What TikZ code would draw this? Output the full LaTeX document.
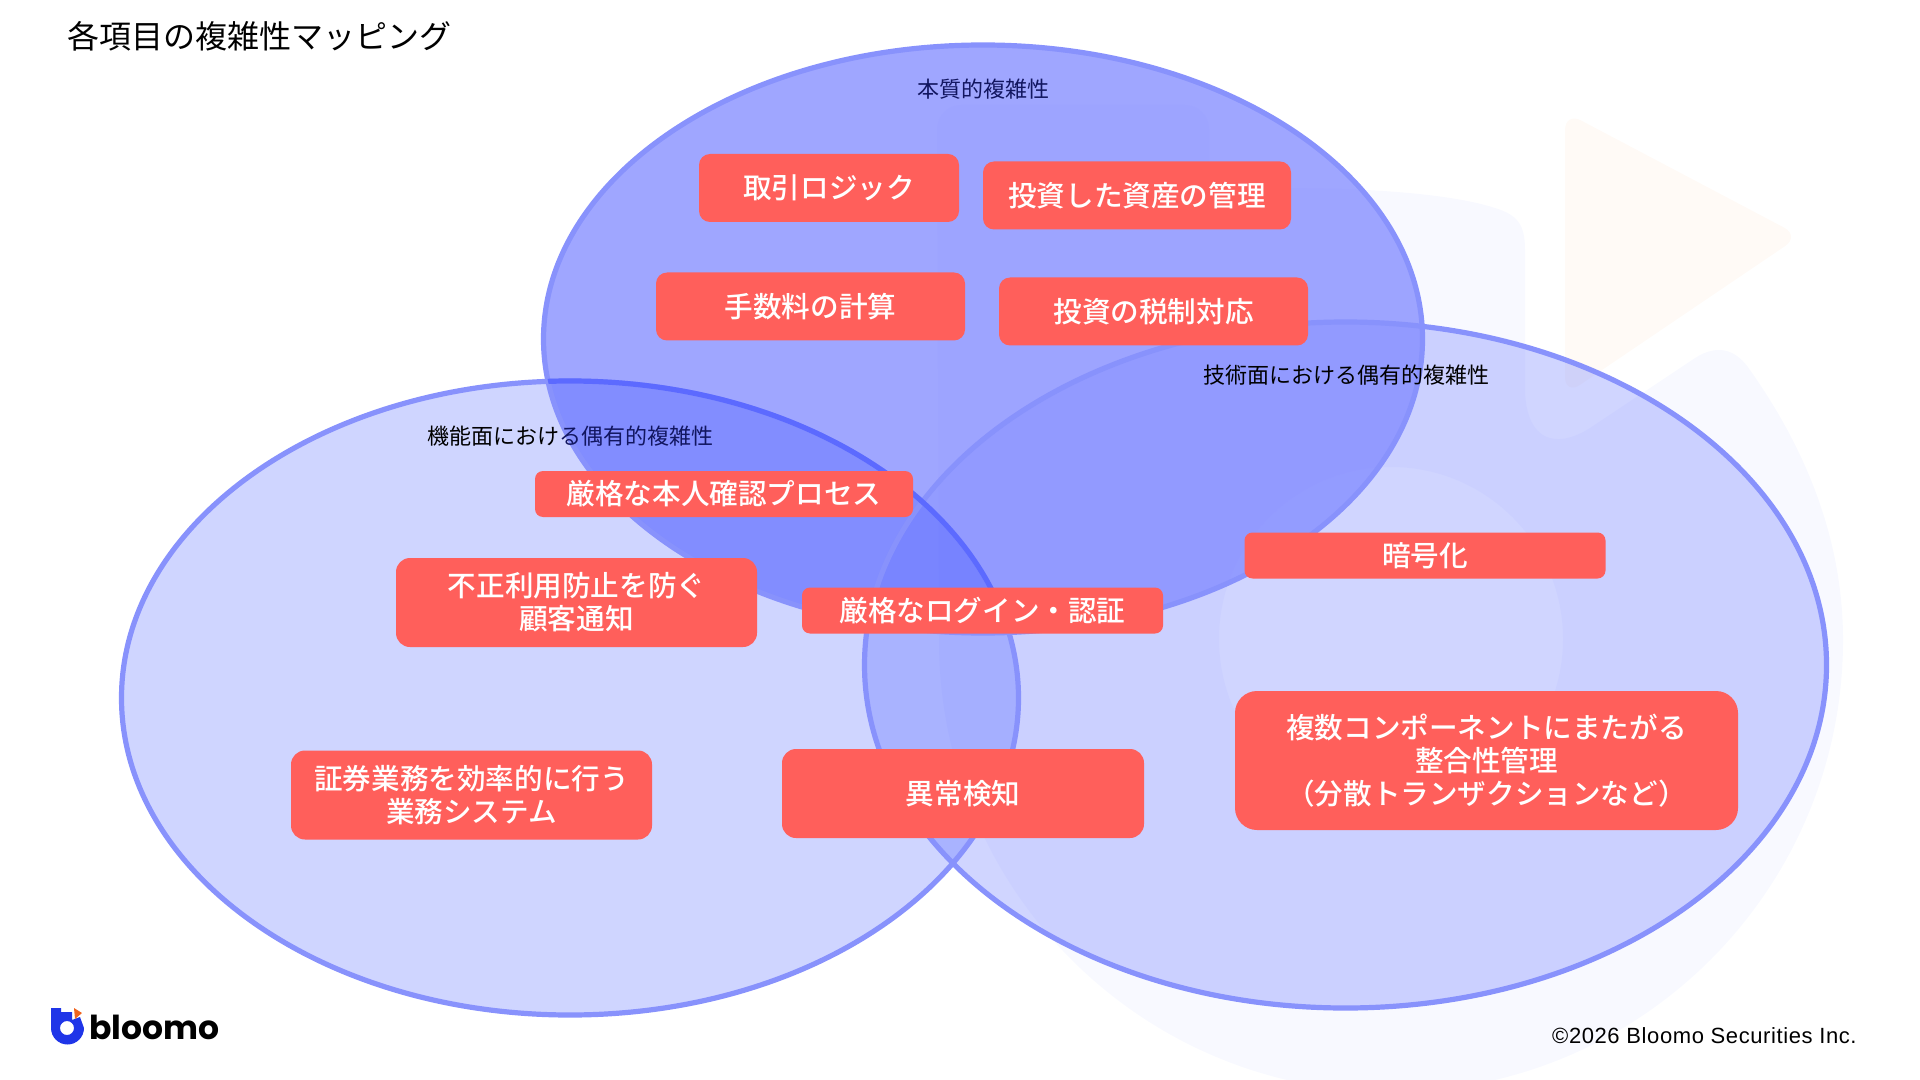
\documentclass[tikz,border=0pt]{standalone}
\usepackage{fontspec}
\usepackage{xcolor}
\usepackage{tikz}
\usetikzlibrary{
positioning,
shapes.geometric
}
\setmainfont{Noto Sans CJK JP}
\newfontfamily\boxfont{Noto Sans CJK JP Medium}
\newfontfamily\footfont[LetterSpace=2.7]{Liberation Sans}
\newfontfamily\brandfont{Poppins}
\definecolor{VennRightFill}{RGB}{124,138,255}
\definecolor{VennTopFill}{RGB}{129,138,255}
\definecolor{VennLeftFill}{RGB}{14,43,255}
\definecolor{VennLine}{RGB}{136,146,252}
\definecolor{VennLineDark}{RGB}{92,106,255}
\definecolor{VennInk}{RGB}{18,22,96}
\definecolor{RiskRed}{HTML}{FF5F5B}
\definecolor{MarkBlue}{HTML}{F8F9FF}
\definecolor{MarkOrange}{HTML}{FFFAF6}
\definecolor{BrandBlue}{HTML}{1F35E8}
\definecolor{BrandOrange}{HTML}{F0641E}
\tikzset{
vennset/.style={ellipse, inner sep=0pt, outer sep=0pt},
vennright/.style={vennset, fill=VennRightFill, fill opacity=0.36},
venntop/.style={vennset, fill=VennTopFill, fill opacity=0.76},
vennleft/.style={vennset, fill=VennLeftFill, fill opacity=0.2},
vennline/.style={draw=VennLine, line width=2.6pt},
vennlabel/.style={font=\fontsize{11}{13}\selectfont, text=black, inner sep=0pt},
riskbox/.style={fill=RiskRed, text=white, align=center, inner sep=0pt,
  font=\boxfont\fontsize{14.3}{16.5}\selectfont},
riskslim/.style={riskbox, minimum height=23pt, rounded corners=4pt},
riskmid/.style={riskbox, minimum height=34pt, rounded corners=5.5pt},
risktall/.style={riskbox, minimum height=44.5pt, rounded corners=7pt}
}
\begin{document}
\begin{tikzpicture}[x=0.5pt, y=-0.5pt]
\useasboundingbox (0,0) rectangle (1920,1080);
\fill[MarkOrange, rounded corners=9pt] (1565,112) -- (1800,236) -- (1565,395) -- cycle;
\fill[MarkBlue, even odd rule] (1843,640) arc[start angle=0, end angle=180, radius=452]
  [rounded corners=12pt] -- (937,105) -- (1209,105) [sharp corners] -- (1209,190)
  .. controls (1320,185) and (1440,190) .. (1495,208)
  .. controls (1518,215) and (1525,225) .. (1525,250) -- (1525,392)
  .. controls (1527,440) and (1555,450) .. (1590,428) -- (1695,358)
  .. controls (1720,342) and (1738,352) .. (1750,370)
  .. controls (1810,455) and (1843,545) .. (1843,640) -- cycle
  (1391,639) circle[radius=172];
\node[vennright, minimum width=481pt, minimum height=343pt] (technical) at (1345.5,665) {};
\node[venntop, minimum width=439.5pt, minimum height=294pt] (essential) at (983,339) {};
\node[vennleft, minimum width=448.5pt, minimum height=317pt] (functional) at (570,698) {};
\draw[vennline] (technical.center) ellipse[x radius=481, y radius=343];
\draw[vennline] (essential.center) ellipse[x radius=439.5, y radius=294];
\draw[vennline] (functional.center) ellipse[x radius=448.5, y radius=317];
\begin{scope}
\clip (essential.center) ellipse[x radius=439.5, y radius=294];
\draw[vennline, draw=VennLineDark] (functional.center) ellipse[x radius=448.5, y radius=317];
\end{scope}
\node[vennlabel, text=VennInk] (essentiallabel) at (983,89) {本質的複雑性};
\node[vennlabel] (technicallabel) at (1346,375) {技術面における偶有的複雑性};
\node[vennlabel] (functionallabel) at (570,436) {機能面におけ{\color{VennInk}る偶有的複雑性}};
\node[anchor=west, inner sep=0pt, font=\fontsize{16}{19}\selectfont] (title) at (67,36) {各項目の複雑性マッピング};
\node[riskmid, minimum width=130pt] (trade) at (829,188) {取引ロジック};
\node[riskmid, minimum width=154pt] (assets) at (1137,195.5) {投資した資産の管理};
\node[riskmid, minimum width=154.5pt] (fees) at (810.5,306.5) {手数料の計算};
\node[riskmid, minimum width=154.5pt] (tax) at (1153.5,311.5) {投資の税制対応};
\node[riskslim, minimum width=189pt] (identity) at (724,494) {厳格な本人確認プロセス};
\node[risktall, minimum width=180.5pt] (notice) at (576.5,602.5) {不正利用防止を防ぐ\\顧客通知};
\node[riskslim, minimum width=180.5pt] (login) at (982.5,610.5) {厳格なログイン・認証};
\node[riskslim, minimum width=180.5pt] (crypto) at (1425,555.5) {暗号化};
\node[risktall, minimum width=180.5pt] (backoffice) at (471.5,795) {証券業務を効率的に行う\\業務システム};
\node[risktall, minimum width=181pt] (anomaly) at (963,793.5) {異常検知};
\node[riskbox, minimum width=251.5pt, minimum height=69.5pt, rounded corners=11pt] (consistency) at (1486.5,760.5) {複数コンポーネントにまたがる\\整合性管理\\（分散トランザクションなど）};
\fill[BrandBlue, even odd rule] (84,1028) arc[start angle=0, end angle=180, radius=16.5]
  -- (51,1008) -- (61,1008) -- (61,1012) -- (72,1012) -- (72,1020) -- (80,1017) -- cycle
  (67,1028) circle[radius=7];
\fill[BrandOrange] (74,1008) -- (82,1013) -- (75,1019) -- cycle;
\node[anchor=west, inner sep=0pt, font=\brandfont\bfseries\fontsize{16.5}{20}\selectfont] (brand) at (89,1027) {bloomo};
\node[anchor=east, inner sep=0pt, font=\footfont\fontsize{11}{13}\selectfont] (copyright) at (1857,1036) {©2026 Bloomo Securities Inc.};
\end{tikzpicture}
\end{document}
